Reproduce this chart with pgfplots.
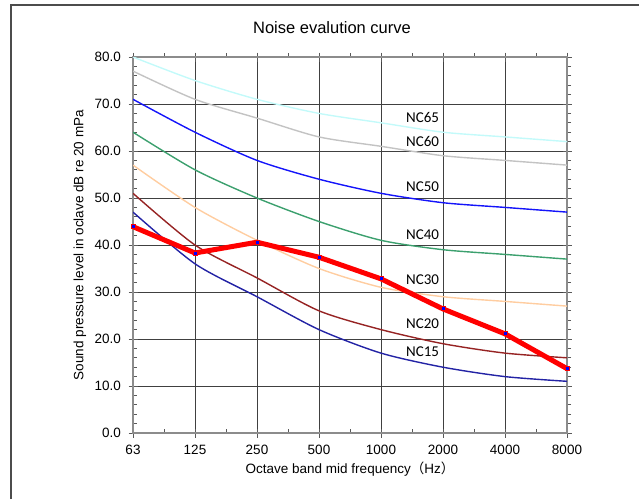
\documentclass[border=0pt]{standalone}
\usepackage{pgfplots}
\usepackage{pgfplotstable}
\pgfplotsset{compat=1.18}
\usepackage{fontspec}
\setmainfont{Liberation Sans}
\newfontfamily\calfont{Carlito}
\newfontfamily\cjk{Noto Sans CJK SC}
\definecolor{cNCsixtyfive}{RGB}{195,250,250}
\definecolor{cNCsixty}{RGB}{195,195,195}
\definecolor{cNCfifty}{RGB}{20,20,250}
\definecolor{cNCforty}{RGB}{60,160,110}
\definecolor{cNCthirty}{RGB}{255,205,160}
\definecolor{cNCtwenty}{RGB}{150,35,35}
\definecolor{cNCfifteen}{RGB}{35,35,165}
\pgfplotstableread{
x nc15 nc20 nc30 nc40 nc50 nc60 nc65 meas
0 47 51 57 64 71 77 80 43.9
1 36 40 48 56 64 71 75 38.3
2 29 33 41 50 58 67 71 40.6
3 22 26 35 45 54 63 68 37.4
4 17 22 31 41 51 61 66 32.8
5 14 19 29 39 49 59 64 26.4
6 12 17 28 38 48 58 63 21.1
7 11 16 27 37 47 57 62 13.7
}\ncdata
\begin{document}
\begin{tikzpicture}
\useasboundingbox (0pt,0pt) rectangle (639pt,-499pt);
\draw[black!70, line width=1.3pt] (11pt,-499pt) -- (11pt,-5pt) -- (639pt,-5pt);
\begin{axis}[
  at={(133pt,-433pt)}, anchor=south west,
  width=434pt, height=376pt, scale only axis,
  xmin=0, xmax=7, ymin=0, ymax=80,
  xtick={0,...,7}, xticklabels={63,125,250,500,1000,2000,4000,8000},
  ytick={0,10,...,80},
  minor x tick num=1, minor y tick num=4,
  grid=major, major grid style={black!75, line width=0.8pt},
  axis line style={black!45, line width=1.6pt},
  tick style={black!65, line width=0.8pt},
  tick align=center, major tick length=9pt, minor tick length=4pt,
  minor y tick style={xshift=2pt}, minor x tick style={yshift=2pt},
  /pgf/number format/assume math mode=true,
  yticklabel style={xshift=-4pt, /pgf/number format/fixed, /pgf/number format/fixed zerofill, /pgf/number format/precision=1},
  xticklabel style={yshift=-4pt},
  ticklabel style={font=\fontsize{13.5}{15}\selectfont},
  nc/.style={line width=1.4pt, smooth, tension=0.45, no markers},
]
\addplot[cNCsixtyfive, nc] table[x=x,y=nc65]{\ncdata};
\addplot[cNCsixty, nc] table[x=x,y=nc60]{\ncdata};
\addplot[cNCfifty, nc] table[x=x,y=nc50]{\ncdata};
\addplot[cNCforty, nc] table[x=x,y=nc40]{\ncdata};
\addplot[cNCthirty, nc] table[x=x,y=nc30]{\ncdata};
\addplot[cNCtwenty, nc] table[x=x,y=nc20]{\ncdata};
\addplot[cNCfifteen, nc] table[x=x,y=nc15]{\ncdata};
\addplot[red, line width=5pt, sharp plot, mark=square*, mark size=2pt, mark options={fill=blue, draw=none, line width=0pt}] table[x=x,y=meas]{\ncdata};
\begin{scope}[every node/.style={anchor=east, inner sep=0pt, font=\calfont\fontsize{15}{17}\selectfont}]
\node at (axis cs:4.94,67.2) {NC65};
\node at (axis cs:4.94,62.1) {NC60};
\node at (axis cs:4.94,52.4) {NC50};
\node at (axis cs:4.94,42.3) {NC40};
\node at (axis cs:4.94,32.6) {NC30};
\node at (axis cs:4.94,23.3) {NC20};
\node at (axis cs:4.94,17.2) {NC15};
\end{scope}
\end{axis}
\node[font=\fontsize{16.5}{19}\selectfont] at (332pt,-28pt) {Noise evalution curve};
\node[font=\fontsize{13.5}{16}\selectfont] at (350pt,-469pt) {Octave band mid frequency{\cjk （}Hz{\cjk ）}};
\node[font=\fontsize{13.5}{16}\selectfont, rotate=90] at (80pt,-245pt) {Sound pressure level in oclave dB re 20 mPa};
\end{tikzpicture}
\end{document}
